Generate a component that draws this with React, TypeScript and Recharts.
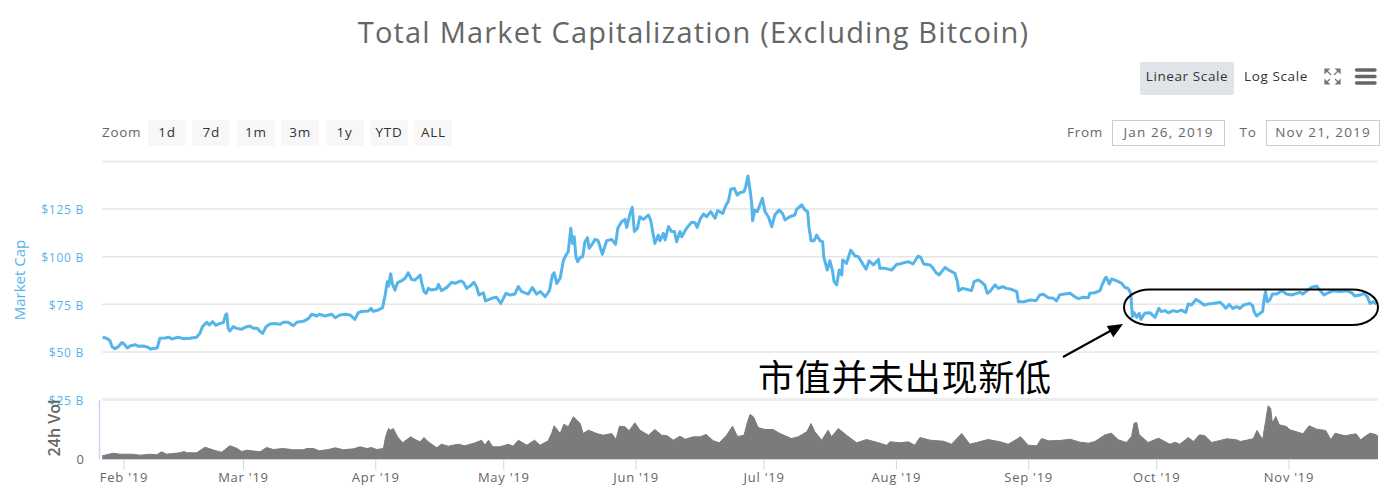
import React from 'react';
import { Area, AreaChart, CartesianGrid, Line, LineChart, ReferenceLine, XAxis, YAxis } from 'recharts';

// x values are days since Jan 26 2019, market cap and volume in $ billions
const capDays = [
  1.0, 1.9, 2.7, 3.2, 3.9, 4.7, 5.5, 6.0, 6.8, 7.4, 8.6, 9.4, 10.5, 11.7, 12.1, 13.8, 14.4, 15.6, 16.6, 17.2, 18.7, 19.9, 21.5, 23.0, 23.8, 24.4, 25.4, 26.0, 26.8, 27.5, 28.5, 29.3, 29.8, 30.1, 30.4, 30.8, 31.6, 32.4, 33.6, 34.4, 35.5, 36.3, 37.3,
  37.9, 38.5, 39.3, 40.2, 41.4, 42.6, 43.3, 44.5, 45.7, 46.5, 48.0, 49.2, 50.0, 51.2, 51.8, 53.1, 54.7, 55.5, 56.6, 57.8, 59.0, 60.1, 60.9, 61.7, 63.3, 63.9, 64.4, 65.6, 66.6, 67.2, 67.7, 68.0, 68.5, 68.9, 69.5, 70.1, 71.1, 71.9, 72.6, 73.4, 74.2,
  75.4, 75.8, 76.3, 76.8, 77.3, 78.1, 79.3, 79.7, 80.4, 81.6, 82.8, 83.6, 84.9, 85.5, 86.3, 87.1, 88.0, 88.6, 89.2, 90.2, 90.7, 92.2, 93.3, 94.3, 95.5, 96.5, 97.6, 98.4, 99.2, 100.7, 101.7, 102.7, 103.6, 104.7, 105.7, 106.4, 106.8, 107.4, 108.2, 109.0, 109.6, 110.1, 110.7, 111.1, 111.5, 111.9, 112.3,
  112.9, 113.5, 114.0, 114.6, 115.0, 115.6, 116.4, 117.1, 118.1, 119.1, 120.3, 121.2, 121.7, 122.6, 123.4, 123.8, 124.6, 125.1, 125.6, 126.3, 126.9, 127.7, 128.9, 129.4, 130.4, 131.2, 131.6, 132.4, 132.8, 133.6, 134.3, 135.0, 135.5, 136.3, 136.7, 137.8, 139.0, 139.8, 140.3, 141.1, 141.8, 142.5, 143.5, 144.5, 145.1, 146.3, 147.1, 147.6, 148.2, 149.0, 149.7,
  150.3, 151.3, 151.7, 152.2, 152.7, 153.1, 153.3, 153.8, 154.4, 155.0, 155.6, 156.2, 157.0, 157.8, 158.5, 159.5, 160.3, 160.9, 162.0, 163.2, 163.6, 164.8, 165.6, 166.2, 166.5, 167.0, 167.7, 168.3, 169.1, 169.7, 170.0, 170.8, 171.4, 172.0, 172.4, 173.0, 173.6, 174.2, 174.4, 175.3, 176.3, 177.3, 178.1, 178.8, 179.9, 180.6, 181.6, 182.8, 183.1, 184.3, 185.9, 187.1,
  187.8, 188.8, 189.8, 190.9, 192.1, 192.7, 193.4, 194.9, 195.6, 196.3, 197.0, 198.4, 199.5, 200.7, 201.3, 201.6, 202.5, 203.4, 204.6, 205.2, 206.2, 207.0, 207.7, 208.3, 208.9, 210.1, 210.9, 211.9, 212.8, 214.0, 215.2, 215.6, 216.9, 218.3, 219.7, 220.6, 221.4, 222.6, 223.8, 224.5,
  225.3, 226.5, 227.7, 228.8, 229.6, 230.8, 232.0, 232.3, 233.5, 234.7, 235.2, 235.9, 236.2, 236.9, 237.4, 238.6, 239.8, 240.5, 241.3, 241.9, 242.3, 242.7, 243.3, 243.9, 244.3, 245.2, 246.4, 247.6, 248.5, 249.1, 249.9, 250.7, 251.9, 252.7, 253.8, 254.8, 255.4, 256.2, 257.2, 258.1, 259.1, 260.1, 261.2,
  262.8, 263.4, 264.2, 265.0, 265.8, 266.7, 267.5, 268.4, 269.8, 270.5, 270.8, 271.4, 272.2, 272.8, 273.2, 273.5, 273.9, 274.5, 275.1, 276.1, 277.3, 278.4, 279.6, 280.8, 281.6, 282.2, 283.3, 284.3, 285.5, 286.2, 287.2, 288.2, 289.4, 290.9, 292.5, 293.7, 294.4, 295.6, 296.6, 297.4, 298.0, 298.7, 299.5,
];
const capValues = [
  57.7, 57.2, 56.0, 52.8, 51.7, 52.8, 55.0, 54.2, 52.1, 53.1, 53.8, 53.0, 53.1, 52.4, 51.6, 52.1, 57.2, 57.3, 57.7, 56.8, 57.7, 57.0, 57.2, 57.7, 59.8, 63.3, 65.6, 64.2, 65.9, 64.0, 65.0, 65.4, 69.4, 70.0, 62.4, 61.0, 63.3, 62.4, 61.9, 63.0, 63.6, 62.4, 62.4,
  60.7, 59.8, 63.3, 64.7, 65.0, 64.5, 65.6, 65.6, 63.8, 65.6, 66.1, 67.5, 69.8, 68.9, 69.8, 68.9, 69.8, 68.0, 69.4, 69.8, 69.4, 67.1, 70.6, 71.3, 71.5, 72.9, 71.3, 72.0, 73.3, 79.9, 86.9, 84.6, 91.0, 85.7, 82.5, 86.4, 87.4, 88.7, 91.6, 88.1, 87.8,
  90.4, 86.0, 81.7, 80.8, 83.4, 82.5, 83.1, 85.5, 82.2, 83.8, 86.6, 86.0, 87.3, 86.6, 83.4, 84.6, 86.6, 84.3, 79.9, 81.1, 76.8, 78.2, 78.7, 75.5, 80.8, 79.9, 80.4, 84.3, 81.7, 80.4, 83.8, 80.4, 81.7, 79.0, 82.2, 90.4, 91.6, 86.0, 88.7, 98.3, 100.9, 102.7, 114.9, 107.0, 110.5, 100.0, 97.4,
  99.7, 100.0, 107.9, 110.0, 104.4, 106.2, 109.1, 108.4, 101.3, 108.4, 109.1, 106.5, 114.9, 118.4, 119.6, 115.4, 122.8, 125.9, 113.2, 114.9, 121.0, 119.6, 121.9, 119.3, 107.0, 111.4, 108.4, 112.3, 108.8, 115.8, 113.2, 113.2, 107.9, 113.2, 110.5, 114.9, 118.1, 117.9, 115.4, 120.2, 122.4, 121.0, 123.7, 120.2, 124.2, 122.8, 127.2, 128.9, 135.4, 135.9, 132.4,
  133.6, 134.2, 136.8, 142.4, 135.0, 128.0, 118.9, 124.5, 123.7, 127.2, 130.7, 123.7, 121.0, 115.8, 121.9, 124.5, 122.8, 119.3, 121.0, 121.9, 124.9, 127.2, 124.5, 123.7, 115.8, 108.4, 108.4, 111.4, 108.4, 107.9, 99.7, 93.0, 97.9, 93.0, 86.9, 85.2, 93.0, 90.4, 98.3, 96.5, 103.5, 100.4, 100.0, 97.4, 93.4, 97.9, 95.7, 98.6, 93.9, 93.9, 93.0, 96.0,
  96.2, 96.9, 97.4, 96.2, 100.4, 99.7, 96.2, 95.7, 93.9, 91.6, 90.4, 94.4, 92.7, 91.3, 86.9, 82.2, 83.4, 82.9, 82.2, 86.9, 87.8, 86.6, 85.2, 80.8, 81.7, 85.2, 83.4, 84.3, 83.4, 82.9, 81.7, 76.4, 76.4, 77.3, 76.9, 79.9, 80.3, 78.5, 78.2, 76.8,
  80.0, 80.4, 80.8, 79.0, 78.0, 78.7, 78.5, 80.8, 81.1, 82.2, 85.2, 88.7, 89.2, 85.7, 88.3, 87.4, 86.0, 84.0, 83.4, 80.8, 68.5, 70.6, 68.2, 70.3, 67.1, 70.3, 70.6, 68.2, 72.9, 71.2, 71.7, 70.6, 71.7, 71.2, 72.0, 70.8, 75.2, 74.7, 77.6, 76.4, 74.7, 75.2, 75.5,
  76.1, 75.0, 72.9, 75.0, 72.9, 73.8, 72.9, 74.7, 75.5, 74.3, 71.2, 68.9, 70.3, 71.2, 78.2, 81.7, 76.4, 77.3, 80.4, 80.4, 82.2, 80.4, 79.9, 80.8, 81.3, 80.4, 82.2, 84.0, 84.6, 82.5, 79.9, 81.1, 82.2, 81.7, 82.2, 81.1, 79.4, 79.9, 80.8, 78.7, 75.5, 76.4, 75.2,
];
const volDays = [
  0.9, 1.5, 3.5, 5.0, 8.0, 9.8, 12.0, 13.7, 14.8, 16.0, 19.1, 20.1, 20.7, 23.0, 25.0, 27.3, 28.9, 30.8, 32.4, 33.6, 34.8,
  37.9, 39.4, 41.0, 43.3, 45.7, 48.0, 48.8, 50.4, 51.8, 53.9, 55.5, 57.4, 59.8, 61.3, 62.9, 64.0, 65.2, 66.8, 67.3, 68.0, 68.5, 69.1, 70.1, 71.3, 72.3, 73.2, 74.2,
  75.4, 76.3, 77.3, 79.3, 80.4, 82.0, 84.3, 85.9, 88.3, 89.8, 90.6, 91.4, 92.4, 94.1, 96.1, 97.2, 98.4, 100.4, 102.2, 103.5, 105.4, 106.2, 106.8, 108.2, 109.1, 110.1, 111.3,
  112.9, 113.6, 114.8, 116.8, 118.3, 120.3, 121.3, 122.1, 123.4, 124.4, 125.7, 126.9, 128.9, 130.4, 132.0, 133.3, 134.7, 136.3, 137.5, 139.4, 141.0, 142.4, 144.1, 145.5, 147.2, 148.6, 149.7,
  150.3, 151.3, 152.0, 152.7, 153.5, 154.6, 156.2, 158.1, 159.7, 162.4, 164.0, 166.0, 167.0, 167.9, 169.5, 171.0, 171.8, 173.4, 175.3, 177.7, 180.0, 182.0, 184.7, 185.5,
  187.8, 189.8, 191.3, 192.5, 194.9, 198.0, 199.9, 202.3, 204.2, 205.8, 208.5, 211.3, 213.2, 214.8, 216.1, 217.9, 219.9, 221.0, 222.6,
  225.3, 227.7, 230.0, 232.0, 233.5, 235.9, 237.4, 239.0, 240.9, 242.1, 242.7, 243.3, 243.9, 246.0, 248.4, 251.1, 252.3, 253.4, 255.4, 256.6, 258.0, 259.3, 260.9,
  262.8, 264.4, 266.7, 267.6, 270.6, 271.5, 272.8, 273.5, 274.1, 274.7, 275.1, 275.9, 276.7, 278.4, 279.2, 282.3, 283.7, 285.5, 287.6, 288.8, 289.8, 292.1, 294.7, 295.8, 296.8, 298.0, 299.5, 299.85,
];
const volValues = [
  3.7, 4.3, 6.3, 5.3, 5.3, 4.3, 5.3, 4.7, 7.7, 5.3, 6.7, 8.0, 6.7, 6.7, 12.3, 9.0, 7.3, 13.7, 11.3, 8.0, 9.3,
  7.7, 12.0, 10.0, 11.0, 9.7, 9.7, 11.0, 11.0, 8.7, 10.0, 11.7, 9.7, 10.7, 12.7, 11.0, 12.0, 10.0, 11.0, 22.7, 31.0, 29.3, 31.0, 22.7, 16.7, 20.0, 22.7, 20.0,
  17.7, 22.0, 17.7, 11.7, 15.3, 13.3, 15.3, 13.7, 16.7, 19.3, 14.3, 19.3, 12.7, 12.7, 15.3, 13.3, 19.3, 14.3, 19.3, 14.3, 18.7, 26.0, 33.7, 26.0, 35.3, 32.7, 42.7,
  36.0, 26.0, 29.3, 26.0, 24.3, 26.0, 20.0, 33.3, 32.7, 28.7, 36.7, 29.3, 24.3, 30.0, 24.3, 23.7, 19.3, 23.3, 20.3, 22.7, 22.7, 25.0, 18.7, 16.7, 24.3, 33.3, 23.3,
  23.3, 24.3, 36.0, 45.0, 42.7, 32.0, 30.0, 30.0, 26.0, 21.0, 22.7, 27.7, 36.0, 27.7, 19.3, 29.3, 22.7, 31.0, 24.3, 16.7, 20.0, 17.7, 14.3, 17.7,
  16.7, 17.7, 14.3, 22.0, 19.3, 18.3, 15.3, 26.0, 15.3, 17.0, 20.0, 17.7, 15.3, 19.3, 22.7, 14.3, 13.7, 21.0, 18.7,
  19.0, 20.3, 17.3, 16.3, 18.0, 24.7, 26.3, 19.7, 17.0, 23.0, 36.3, 37.0, 24.7, 17.0, 21.3, 15.3, 17.3, 15.3, 22.0, 18.0, 24.7, 23.7, 17.0,
  19.0, 20.7, 19.7, 18.0, 20.7, 29.0, 19.7, 38.0, 53.7, 51.3, 36.3, 43.0, 34.7, 33.0, 29.7, 25.7, 33.7, 30.3, 29.0, 19.7, 26.3, 23.7, 25.7, 19.7, 23.0, 26.3, 24.7, 23.0,
];

const monthTicks = [6, 34, 65, 95, 126, 156, 187, 218, 248, 279];
const monthLabels = ["Feb '19", "Mar '19", "Apr '19", "May '19", "Jun '19", "Jul '19", "Aug '19", "Sep '19", "Oct '19", "Nov '19"];
const capTicks = [25, 50, 75, 100, 125, 150];
const rangeButtons = ['1d', '7d', '1m', '3m', '1y', 'YTD', 'ALL'];

const capData = capDays.map((day, i) => ({ day, cap: capValues[i] }));
const volData = volDays.map((day, i) => ({ day, vol: volValues[i] }));

const FONT = '"Open Sans", sans-serif';
const BLUE = '#55b4ea';
const dayDomain = [0.85, 299.85];

const box = (left: number, top: number, width: number, height: number): React.CSSProperties => ({
  position: 'absolute',
  left,
  top,
  width,
  height,
  lineHeight: `${height}px`,
  textAlign: 'center',
  boxSizing: 'border-box',
  whiteSpace: 'nowrap',
});

const App = () => {
  return (
    <div style={{ position: 'absolute', left: 0, top: 0, width: 1394, height: 494, background: '#fff', fontFamily: FONT, overflow: 'hidden' }}>
      <div style={{ ...box(0, 11, 1387, 42), fontSize: 29, color: '#666', letterSpacing: 1.2 }}>
        Total Market Capitalization (Excluding Bitcoin)
      </div>

      <div style={{ ...box(1140, 62, 94, 33), background: '#e0e3e8', borderRadius: 2, fontSize: 13.5, color: '#333', letterSpacing: 0.6, lineHeight: '29px' }}>Linear Scale</div>
      <div style={{ ...box(1238, 62, 76, 33), fontSize: 13.5, color: '#333', letterSpacing: 0.6, lineHeight: '29px' }}>Log Scale</div>

      <div style={{ ...box(102, 120, 40, 26), fontSize: 13.5, color: '#666', letterSpacing: 0.7, textAlign: 'left', lineHeight: '24px' }}>Zoom</div>
      {rangeButtons.map((label, i) => (
        <div key={label} style={{ ...box(148 + i * 44.4, 120, 38, 26), background: '#f7f7f7', borderRadius: 2, fontSize: 13.5, color: '#333', letterSpacing: 0.8, lineHeight: '24px' }}>
          {label}
        </div>
      ))}

      <div style={{ ...box(1064, 120, 42, 26), fontSize: 13.5, color: '#666', letterSpacing: 0.7, lineHeight: '24px' }}>From</div>
      <div style={{ ...box(1112, 120, 113, 26), border: '1px solid #ccc', fontSize: 13.5, color: '#666', letterSpacing: 1.15, lineHeight: '22px' }}>Jan 26, 2019</div>
      <div style={{ ...box(1234, 120, 28, 26), fontSize: 13.5, color: '#666', letterSpacing: 0.7, lineHeight: '24px' }}>To</div>
      <div style={{ ...box(1266, 120, 114, 26), border: '1px solid #ccc', fontSize: 13.5, color: '#666', letterSpacing: 1.15, lineHeight: '22px' }}>Nov 21, 2019</div>

      <div style={{ position: 'absolute', left: 0, top: 0 }}>
        <AreaChart width={1394} height={494} data={volData} margin={{ top: 400, right: 16, bottom: 0, left: 52 }}>
          <XAxis
            dataKey="day"
            type="number"
            domain={dayDomain}
            ticks={monthTicks}
            interval={0}
            height={34.5}
            tickFormatter={(d: number) => monthLabels[monthTicks.indexOf(d)]}
            tick={{ fontSize: 13, fill: '#666', fontFamily: FONT, letterSpacing: 0.75 }}
            stroke="#ccd6eb"
            tickSize={10}
            tickMargin={3}
          />
          <YAxis
            width={50}
            type="number"
            domain={[0, 59.5]}
            ticks={[0]}
            axisLine={false}
            tickLine={false}
            tickSize={0}
            tickMargin={18}
            tick={{ fontSize: 13, fill: '#666', fontFamily: FONT }}
          />
          <Area dataKey="vol" type="linear" stroke="#7b7b7b" strokeWidth={1} fill="#7b7b7b" fillOpacity={1} dot={false} isAnimationActive={false} />
        </AreaChart>
      </div>

      <div style={{ position: 'absolute', left: 0, top: 0 }}>
        <LineChart width={1394} height={420} data={capData} margin={{ top: 161.5, right: 16, bottom: 20.4, left: 52 }}>
          <CartesianGrid vertical={false} stroke="#e6e6e6" strokeWidth={1.5} />
          <XAxis dataKey="day" type="number" domain={dayDomain} hide />
          <YAxis
            width={50}
            type="number"
            domain={[25, 150]}
            ticks={capTicks}
            interval={0}
            axisLine={false}
            tickLine={false}
            tickSize={0}
            tickMargin={18}
            tickFormatter={(v: number) => (v === 150 ? '' : `$${v} B`)}
            tick={{ fontSize: 12, fill: BLUE, fontFamily: FONT, letterSpacing: 0.75, dy: 1 }}
          />
          <ReferenceLine y={25} stroke="#eeeeee" strokeWidth={3} />
          <Line dataKey="cap" type="linear" stroke={BLUE} strokeWidth={3} strokeLinejoin="round" dot={false} isAnimationActive={false} />
        </LineChart>
      </div>

      <div style={{ position: 'absolute', left: 19, top: 280, fontSize: 15, color: BLUE, transform: 'translate(-50%, -50%) rotate(-90deg)', whiteSpace: 'nowrap' }}>
        Market Cap
      </div>
      <div style={{ position: 'absolute', left: 54, top: 428, fontSize: 16, fontWeight: 600, color: '#666', transform: 'translate(-50%, -50%) rotate(-90deg)', whiteSpace: 'nowrap' }}>
        24h Vol
      </div>

      <div style={{ ...box(758, 353, 300, 44), textAlign: 'left', fontFamily: '"Noto Sans CJK SC", serif', fontSize: 36, letterSpacing: 0.7, color: '#000' }}>
        市值并未出现新低
      </div>

      <svg width={1394} height={494} style={{ position: 'absolute', left: 0, top: 0 }}>
        <line x1={99.5} y1={400} x2={99.5} y2={459.5} stroke="#ccd6eb" strokeWidth={1.5} />
        <rect x={1124} y={289.5} width={254} height={35.5} rx={26} ry={17.7} fill="none" stroke="#000" strokeWidth={2} />
        <line x1={1063} y1={357} x2={1112} y2={330} stroke="#000" strokeWidth={2} />
        <polygon points="1123,324 1106.7,326 1113.3,337.3" fill="#000" />
        <g stroke="#666" strokeWidth={3.4} strokeLinecap="round">
          <line x1={1356.5} y1={70} x2={1375} y2={70} />
          <line x1={1356.5} y1={76.5} x2={1375} y2={76.5} />
          <line x1={1356.5} y1={83} x2={1375} y2={83} />
        </g>
        <g stroke="#777" strokeWidth={1.2} fill="#777">
          <path d="M1325 69 L1329 69 L1325 73 Z" />
          <path d="M1340 69 L1336 69 L1340 73 Z" />
          <path d="M1325 84 L1329 84 L1325 80 Z" />
          <path d="M1340 84 L1336 84 L1340 80 Z" />
          <line x1={1326} y1={70} x2={1331} y2={75} />
          <line x1={1339} y1={70} x2={1334} y2={75} />
          <line x1={1326} y1={83} x2={1330} y2={79} />
          <line x1={1339} y1={83} x2={1335} y2={79} />
        </g>
      </svg>
    </div>
  );
};

export default App;
